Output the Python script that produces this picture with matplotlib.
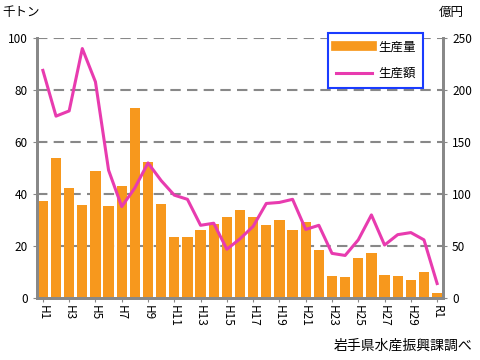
import matplotlib
matplotlib.use("Agg")
import matplotlib.pyplot as plt
from matplotlib.lines import Line2D
import numpy as np

plt.rcParams['font.family'] = ['Noto Sans CJK JP', 'DejaVu Sans']

years = ["H1", "H2", "H3", "H4", "H5", "H6", "H7", "H8", "H9", "H10",
         "H11", "H12", "H13", "H14", "H15", "H16", "H17", "H18", "H19", "H20",
         "H21", "H22", "H23", "H24", "H25", "H26", "H27", "H28", "H29", "H30", "R1"]
# 生産量 (千トン)
volume = [37.3, 53.8, 42.3, 35.8, 48.8, 35.4, 43.1, 73.1, 52.3, 36.2,
          23.5, 23.5, 26.2, 28.5, 31.2, 33.8, 31.2, 28.1, 30.0, 26.2,
          29.2, 18.5, 8.5, 8.1, 15.4, 17.3, 8.8, 8.5, 6.9, 10.0, 1.9]
# 生産額 (億円)
value = [219, 175, 180, 240, 208, 123, 88, 106, 130, 113,
         99, 95, 70, 72, 47, 57, 69, 91, 92, 95,
         66, 70, 43, 41, 56, 80, 51, 61, 63, 56, 14]

bar_color = "#F7981D"
line_color = "#E83BAF"
axis_gray = "#888888"

fig = plt.figure(figsize=(4.8, 3.6), dpi=100)
ax = fig.add_axes([0.077, 0.172, 0.846, 0.722])
ax2 = ax.twinx()

x = np.arange(len(years))
ax.bar(x, volume, width=0.78, color=bar_color, zorder=2, label="生産量")
ax2.plot(x, value, color=line_color, linewidth=2.2, zorder=3, label="生産額")

ax.set_xlim(-0.45, len(years) - 0.55)
ax.set_ylim(0, 100)
ax2.set_ylim(0, 250)
ax.set_yticks(np.arange(0, 101, 20))
ax2.set_yticks(np.arange(0, 251, 50))

# dashed grid
for v in range(20, 101, 20):
    ax.axhline(v, color=axis_gray, linestyle=(0, (5, 3)), linewidth=1.5, zorder=1)

ax.set_xticks(x[::2])
ax.set_xticklabels(years[::2], rotation=270, fontsize=8.5)
ax.tick_params(axis="x", length=3, color=axis_gray, pad=2)
ax.tick_params(axis="y", labelsize=8.5, length=3, color=axis_gray)
ax2.tick_params(axis="y", labelsize=8.5, length=3, color=axis_gray)

for a in (ax, ax2):
    a.spines["top"].set_visible(False)
    for s in ("left", "right", "bottom"):
        a.spines[s].set_color(axis_gray)
        a.spines[s].set_linewidth(2)

h2, l2 = ax2.get_legend_handles_labels()
bar_handle = Line2D([0], [0], color=bar_color, linewidth=7)
leg = ax2.legend([bar_handle, h2[0]], ["生産量", l2[0]], loc="upper right",
                 bbox_to_anchor=(0.951, 1.02), fontsize=9, frameon=True,
                 fancybox=False, framealpha=1, handlelength=2.9,
                 handletextpad=0.5, labelspacing=1.1, borderpad=0.6,
                 borderaxespad=0)
leg.get_frame().set_edgecolor("#1a3cff")
leg.get_frame().set_linewidth(1.5)

fig.text(0.005, 0.965, "千トン", fontsize=9, ha="left", va="center")
fig.text(0.915, 0.965, "億円", fontsize=9, ha="left", va="center")
fig.text(0.985, 0.04, "岩手県水産振興課調べ", fontsize=10, ha="right", va="center")

fig.savefig("out.png", dpi=100)
